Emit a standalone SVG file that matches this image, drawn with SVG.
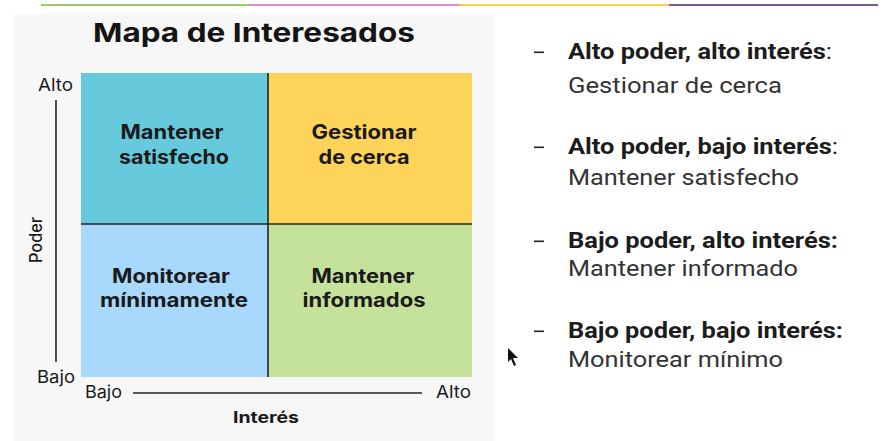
<svg xmlns="http://www.w3.org/2000/svg" width="893" height="441" viewBox="0 0 893 441">
<style>
.q{font-family:Inter,"Liberation Sans",sans-serif;font-weight:700;font-size:20px;fill:#1a1a1a;text-anchor:middle}
.ax{font-family:Inter,"Liberation Sans",sans-serif;font-size:17px;fill:#1a1a1a}
.axb{font-family:Inter,"Liberation Sans",sans-serif;font-size:16px;font-weight:700;fill:#1a1a1a}
.hd{font-family:Roboto,"Liberation Sans",sans-serif;font-size:22px;font-weight:700;fill:#1c1c1c}
.bd{font-family:Roboto,"Liberation Sans",sans-serif;font-size:22px;fill:#333}
.rg{font-weight:400}
.ln{stroke:#222;stroke-width:1.6;fill:none}
.dash{fill:#222}
</style>
<rect width="893" height="441" fill="#ffffff"/>
<g id="topbar">
<rect x="41" y="4" width="209" height="2" fill="#9ccc6a"/>
<rect x="250" y="4" width="209" height="2" fill="#e98ccf"/>
<rect x="459" y="4" width="210" height="2" fill="#f5d255"/>
<rect x="669" y="4" width="209" height="2" fill="#7a5a8c"/>
</g>
<rect id="panel" x="14" y="14" width="480" height="427" fill="#f7f7f7"/>
<text id="title" x="254" y="42" font-family="Inter,'Liberation Sans',sans-serif" font-size="26" font-weight="700" fill="#141414" text-anchor="middle" textLength="322" lengthAdjust="spacingAndGlyphs">Mapa de Interesados</text>
<g id="q-tl"><rect x="81" y="73" width="187" height="151" fill="#66c9dc"/>
<text class="q" x="172" y="139" textLength="103" lengthAdjust="spacingAndGlyphs">Mantener</text>
<text class="q" x="174" y="164" textLength="110" lengthAdjust="spacingAndGlyphs">satisfecho</text></g>
<g id="q-tr"><rect x="268" y="73" width="204" height="151" fill="#fdd35a"/>
<text class="q" x="364" y="139" textLength="105" lengthAdjust="spacingAndGlyphs">Gestionar</text>
<text class="q" x="364" y="164" textLength="91" lengthAdjust="spacingAndGlyphs">de cerca</text></g>
<g id="q-bl"><rect x="81" y="224" width="187" height="153" fill="#a8d8fb"/>
<text class="q" x="171" y="283" textLength="118" lengthAdjust="spacingAndGlyphs">Monitorear</text>
<text class="q" x="174" y="307" textLength="148" lengthAdjust="spacingAndGlyphs">mínimamente</text></g>
<g id="q-br"><rect x="268" y="224" width="204" height="153" fill="#c5e29a"/>
<text class="q" x="363" y="283" textLength="103" lengthAdjust="spacingAndGlyphs">Mantener</text>
<text class="q" x="364" y="307" textLength="123" lengthAdjust="spacingAndGlyphs">informados</text></g>
<g id="connectors">
<line class="ln" x1="268" y1="73" x2="268" y2="377"/>
<line class="ln" x1="81" y1="224" x2="472" y2="224"/>
<line class="ln" x1="56" y1="100" x2="56" y2="362"/>
<line class="ln" x1="133" y1="393" x2="422" y2="393"/>
</g>
<g id="axes">
<text class="ax" x="38" y="91" textLength="35" lengthAdjust="spacingAndGlyphs">Alto</text>
<text class="ax" x="37" y="383" textLength="38" lengthAdjust="spacingAndGlyphs">Bajo</text>
<text class="ax" transform="translate(42,240) rotate(-90)" text-anchor="middle" font-weight="500" textLength="46" lengthAdjust="spacingAndGlyphs">Poder</text>
<text class="ax" x="85" y="398" textLength="37" lengthAdjust="spacingAndGlyphs">Bajo</text>
<text class="ax" x="436" y="398" textLength="35" lengthAdjust="spacingAndGlyphs">Alto</text>
<text class="axb" x="266" y="423" text-anchor="middle" textLength="66" lengthAdjust="spacingAndGlyphs">Interés</text>
</g>
<g id="list">
<rect class="dash" x="534" y="51.5" width="10" height="1.6"/>
<text class="hd" x="568" y="59" textLength="264" lengthAdjust="spacingAndGlyphs">Alto poder, alto interés<tspan class="rg">:</tspan></text>
<text class="bd" x="568" y="93" textLength="214" lengthAdjust="spacingAndGlyphs">Gestionar de cerca</text>
<rect class="dash" x="534" y="146.5" width="10" height="1.6"/>
<text class="hd" x="568" y="154" textLength="270" lengthAdjust="spacingAndGlyphs">Alto poder, bajo interés<tspan class="rg">:</tspan></text>
<text class="bd" x="568" y="185" textLength="231" lengthAdjust="spacingAndGlyphs">Mantener satisfecho</text>
<rect class="dash" x="534" y="240.5" width="10" height="1.6"/>
<text class="hd" x="568" y="248" textLength="270" lengthAdjust="spacingAndGlyphs">Bajo poder, alto interés:</text>
<text class="bd" x="568" y="276" textLength="230" lengthAdjust="spacingAndGlyphs">Mantener informado</text>
<rect class="dash" x="534" y="330.5" width="10" height="1.6"/>
<text class="hd" x="568" y="338" textLength="275" lengthAdjust="spacingAndGlyphs">Bajo poder, bajo interés:</text>
<text class="bd" x="568" y="367" textLength="215" lengthAdjust="spacingAndGlyphs">Monitorear mínimo</text>
</g>
<polygon id="cursor" points="508,348 508,362 511,359 514,366 516,365 513,358 518,358" fill="#111"/>
</svg>
